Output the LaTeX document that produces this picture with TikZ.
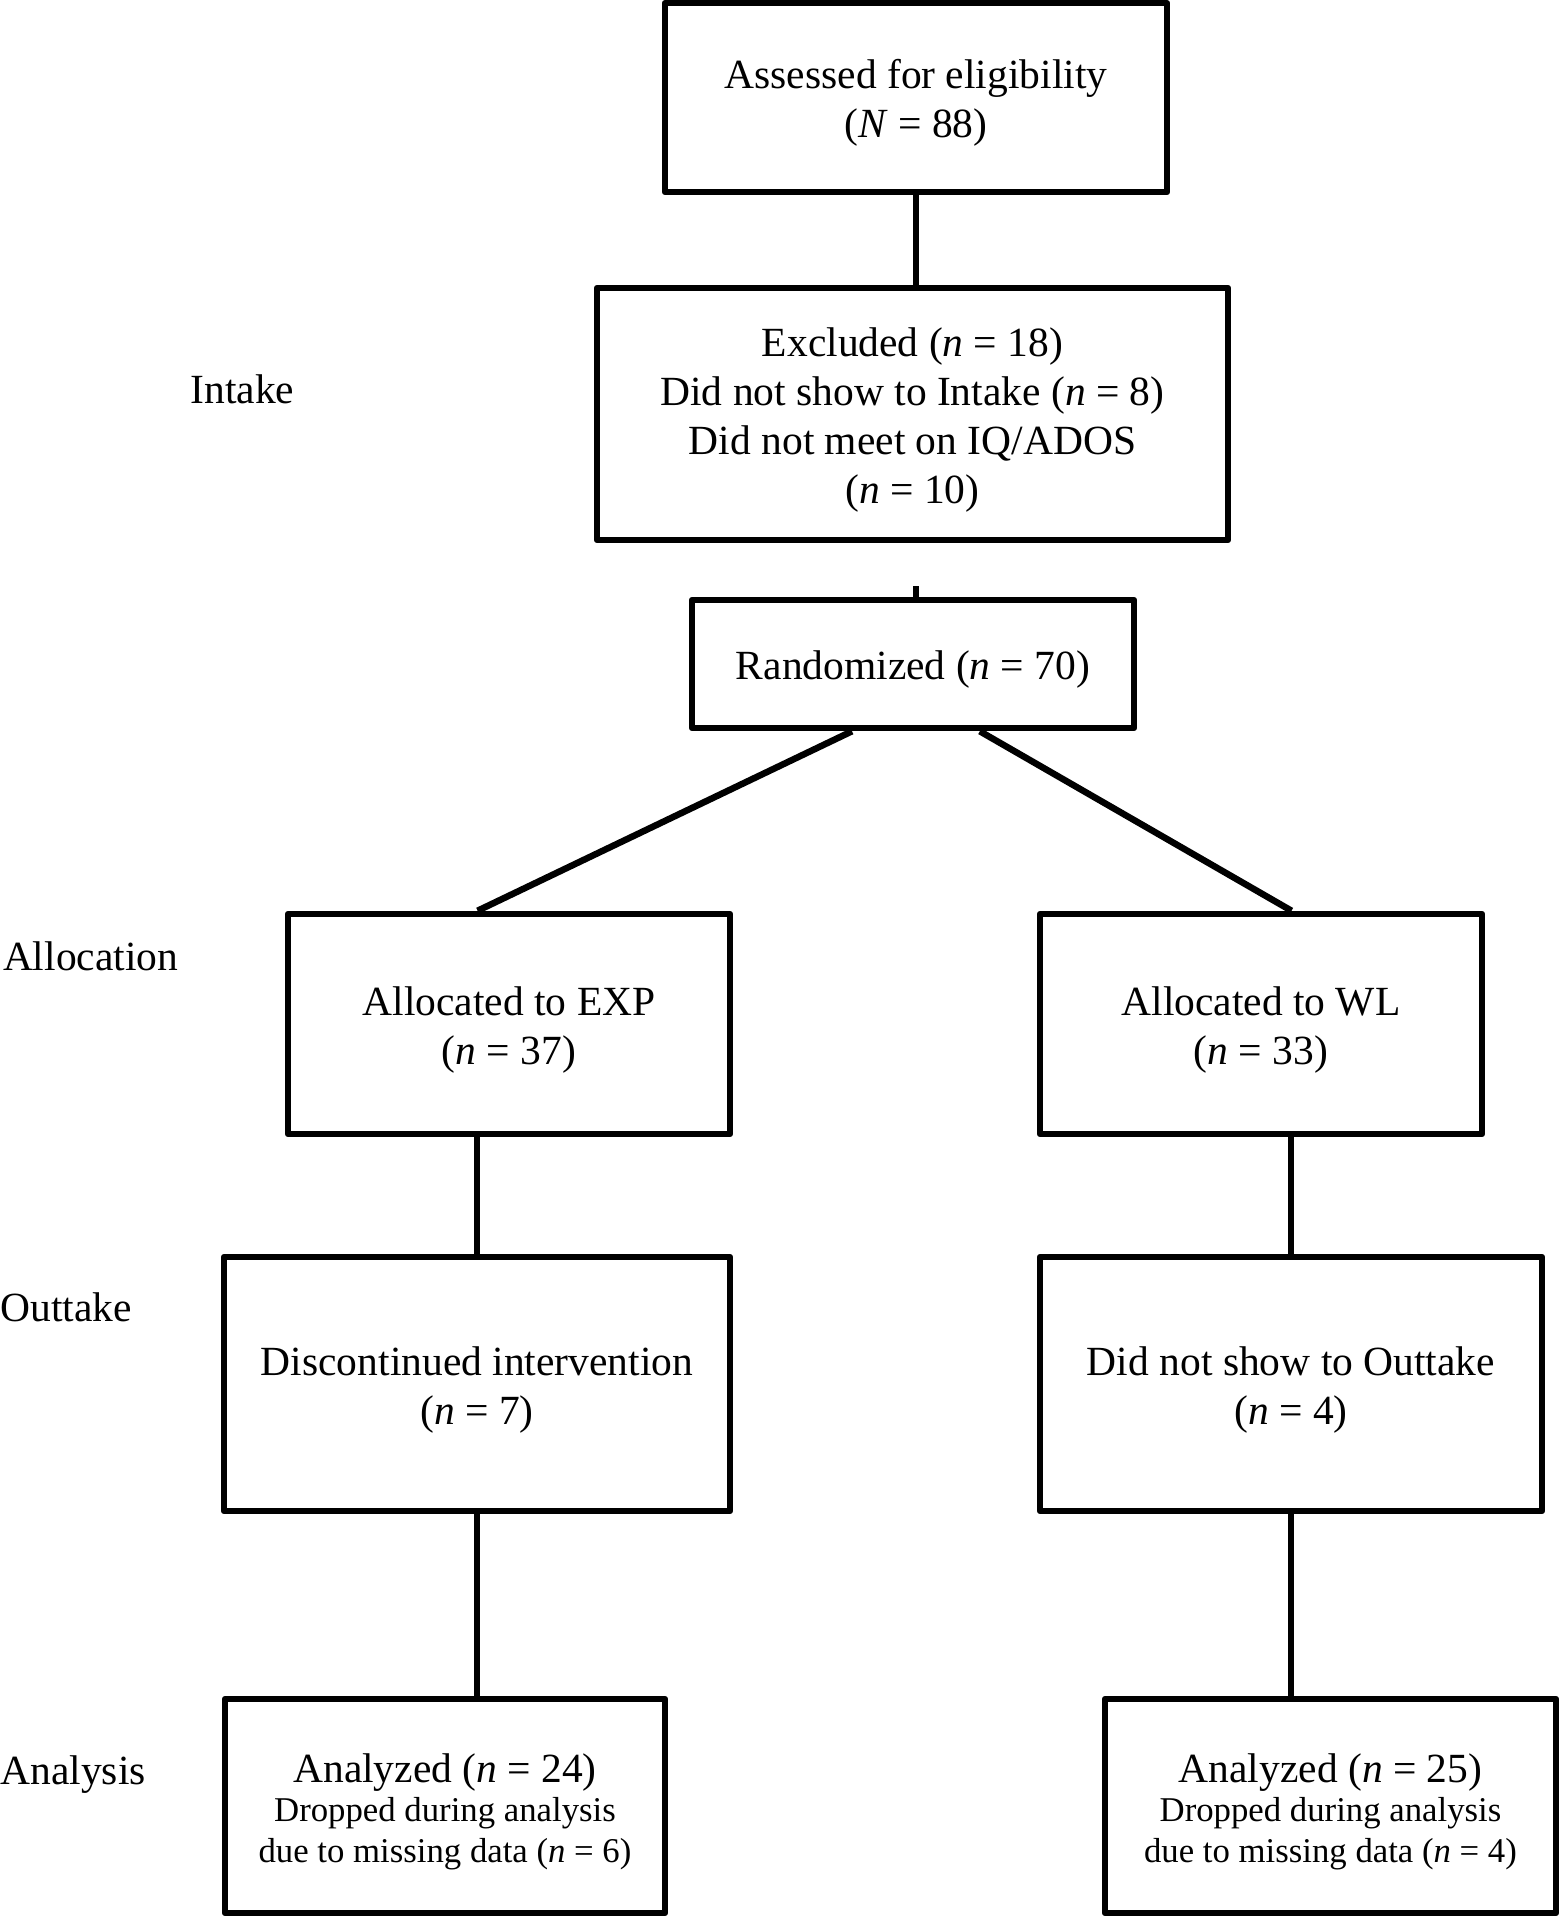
\documentclass[tikz,border=0pt]{standalone}
\usepackage{fontspec}
\setmainfont{Liberation Serif}
\usetikzlibrary{calc}

\newcommand{\dropfont}{\fontsize{13.9}{16.4}\selectfont}
\newcommand{\toppad}{\rule{0pt}{16pt}}

\begin{document}
\begin{tikzpicture}[x=0.4pt, y=-0.4pt,
    flowbox/.style = {draw, line width=2.6pt, line join=round, inner sep=0pt, align=center,
                      font=\fontsize{16.6}{19.6}\selectfont},
    stagelabel/.style = {anchor=base west, inner sep=0pt, font=\fontsize{16.6}{19.6}\selectfont},
    link/.style = {line width=2.6pt}]
    \useasboundingbox (0,0) rectangle (1562,1920);

    % boxes
    \node[flowbox, minimum width=200.8pt, minimum height=75.5pt] (assess) at (916,97.6)
        {\toppad Assessed for eligibility\\(\textit{N} = 88)};
    \node[flowbox, minimum width=252.4pt, minimum height=100.8pt] (excl) at (912.5,414)
        {\toppad Excluded (\textit{n} = 18)\\Did not show to Intake (\textit{n} = 8)\\Did not meet on IQ/ADOS\\(\textit{n} = 10)};
    \node[flowbox, minimum width=176.8pt, minimum height=51.2pt] (rand) at (913,664)
        {\toppad Randomized (\textit{n} = 70)};
    \node[flowbox, minimum width=176.8pt, minimum height=88pt] (allocexp) at (509,1024)
        {\toppad Allocated to EXP\\(\textit{n} = 37)};
    \node[flowbox, minimum width=176.8pt, minimum height=88pt] (allocwl) at (1261,1024)
        {\toppad Allocated to WL\\(\textit{n} = 33)};
    \node[flowbox, minimum width=202.4pt, minimum height=101.6pt] (outexp) at (477,1384)
        {\toppad Discontinued intervention\\(\textit{n} = 7)};
    \node[flowbox, minimum width=200.8pt, minimum height=101.6pt] (outwl) at (1291,1384)
        {\toppad Did not show to Outtake\\(\textit{n} = 4)};
    \node[flowbox, minimum width=176pt, minimum height=85.6pt] (anaexp) at (445,1806)
        {\toppad Analyzed (\textit{n} = 24)\\[-4pt]\dropfont Dropped during analysis\\[-3pt]\dropfont due to missing data (\textit{n} = 6)};
    \node[flowbox, minimum width=180.4pt, minimum height=85.6pt] (anawl) at (1330.5,1806)
        {\toppad Analyzed (\textit{n} = 25)\\[-4pt]\dropfont Dropped during analysis\\[-3pt]\dropfont due to missing data (\textit{n} = 4)};

    % stage labels
    \node[stagelabel] (intake) at (190,403) {Intake};
    \node[stagelabel] (allocation) at (2.5,970) {Allocation};
    \node[stagelabel] (outtake) at (0,1321) {Outtake};
    \node[stagelabel] (analysis) at (0,1784) {Analysis};

    % connectors
    \coordinate (tick) at (916,586);
    \draw[link] (assess.south) -- (assess.south |- excl.north);
    \draw[link] (tick) -- (tick |- rand.north);
    \draw[link] ($(rand.south west)!0.364!(rand.south east)$) -- ($(allocexp.north west)!0.43!(allocexp.north east)$);
    \draw[link] ($(rand.south west)!0.649!(rand.south east)$) -- ($(allocwl.north west)!0.568!(allocwl.north east)$);
    \draw[link] (outexp.north |- allocexp.south) -- (outexp.north);
    \draw[link] (outwl.north |- allocwl.south) -- (outwl.north);
    \draw[link] (outexp.south) -- (outexp.south |- anaexp.north);
    \draw[link] (outwl.south) -- (outwl.south |- anawl.north);
\end{tikzpicture}
\end{document}
